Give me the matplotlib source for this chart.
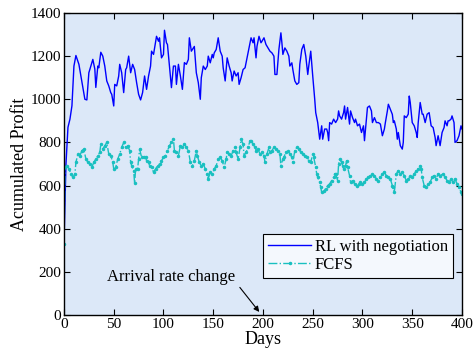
import matplotlib
matplotlib.use('Agg')
import matplotlib.pyplot as plt

# RL with negotiation (day -> profit)
rl_days = [0, 2, 4, 6, 8, 10, 12, 15, 17, 19, 21, 23, 25, 27, 29, 31, 32, 34, 35, 37,
           39, 41, 43, 45, 47, 48, 50, 51, 53, 55, 56, 58, 60, 62, 63, 65, 67, 69, 71, 73,
           75, 77, 79, 81, 83, 85, 87, 88, 90, 93, 95, 96, 98, 100, 101, 103, 104, 106, 108, 110,
           112, 113, 115, 117, 119, 121, 123, 125, 126, 128, 131, 133, 135, 137, 138, 140, 142, 144, 145, 147,
           149, 150, 151, 153, 155, 157, 159, 160, 162, 164, 166, 168, 169, 171, 173, 175, 176, 178, 180, 182,
           184, 186, 188, 190, 191, 193, 194, 196, 198, 199, 201, 203, 205, 207, 209, 211, 212, 214, 216, 218,
           219, 220, 222, 224, 226, 227, 229, 230, 232, 234, 236, 237, 239, 241, 243, 245, 246, 248, 250, 252,
           253, 255, 257, 259, 260, 262, 264, 265, 266, 267, 269, 271, 273, 275, 276, 277, 279, 281, 282, 283,
           285, 287, 288, 290, 292, 293, 295, 297, 299, 301, 302, 304, 305, 307, 309, 310, 312, 314, 316, 318,
           320, 322, 323, 325, 326, 328, 330, 331, 332, 334, 335, 336, 338, 340, 341, 342, 344, 346, 347, 348,
           350, 352, 354, 355, 356, 358, 360, 361, 363, 365, 367, 369, 371, 373, 374, 376, 378, 380, 382, 383,
           385, 386, 387, 389, 390, 392, 393, 395, 397, 399, 400]
rl_profit = [330, 700, 870, 908, 970, 1154, 1203, 1162, 1108, 1054, 1000, 997, 1123, 1154, 1185, 1140, 1055, 1154, 1146, 1218,
             1200, 1154, 1085, 1062, 1031, 1023, 969, 1069, 1062, 1108, 1162, 1123, 1031, 1138, 1146, 1200, 1123, 1162, 1138, 1077,
             1023, 997, 1031, 1108, 1046, 1108, 1154, 1223, 1208, 1292, 1269, 1285, 1192, 1208, 1320, 1262, 1254, 1154, 1054, 1154,
             1154, 1069, 1162, 1108, 1046, 1170, 1162, 1185, 1285, 1223, 1245, 1123, 1077, 1000, 1100, 1154, 1138, 1154, 1200, 1169,
             1208, 1192, 1215, 1231, 1285, 1223, 1200, 1146, 1085, 1192, 1154, 1123, 1085, 1131, 1108, 1123, 1069, 1100, 1138, 1146,
             1192, 1238, 1285, 1262, 1285, 1192, 1246, 1292, 1262, 1269, 1285, 1254, 1238, 1223, 1215, 1200, 1115, 1115, 1231, 1308,
             1262, 1208, 1238, 1223, 1200, 1154, 1169, 1138, 1085, 1069, 1077, 1162, 1231, 1254, 1200, 1115, 1154, 1223, 1108, 1000,
             938, 892, 815, 877, 815, 862, 862, 846, 808, 892, 885, 908, 892, 908, 946, 923, 908, 938, 969, 908,
             962, 885, 946, 915, 892, 908, 877, 885, 846, 877, 808, 908, 962, 969, 946, 892, 915, 892, 892, 885,
             831, 862, 892, 946, 977, 954, 930, 892, 900, 862, 815, 846, 785, 769, 800, 923, 915, 931, 1015, 985,
             892, 877, 846, 823, 892, 985, 931, 931, 892, 931, 938, 877, 869, 823, 785, 831, 785, 846, 869, 900,
             877, 900, 900, 908, 923, 892, 800, 808, 831, 877, 862]

# FCFS
fcfs_days = [0, 1, 3, 5, 7, 9, 11, 12, 14, 16, 18, 20, 22, 24, 26, 28, 30, 32, 34, 36,
             37, 39, 41, 43, 45, 47, 49, 50, 52, 54, 56, 58, 60, 62, 64, 66, 67, 68, 70, 71,
             72, 74, 75, 76, 78, 80, 82, 83, 85, 86, 88, 90, 92, 94, 96, 98, 100, 102, 104, 106,
             108, 110, 111, 113, 115, 117, 119, 121, 123, 125, 127, 129, 131, 133, 134, 136, 138, 140, 142, 144,
             145, 147, 149, 151, 153, 155, 157, 159, 161, 163, 164, 166, 168, 170, 172, 173, 175, 177, 178, 180,
             181, 183, 185, 187, 188, 190, 192, 193, 195, 197, 199, 201, 202, 204, 206, 207, 209, 211, 213, 215,
             217, 218, 220, 221, 223, 225, 227, 229, 230, 232, 234, 236, 238, 240, 242, 244, 246, 248, 250, 251,
             253, 254, 255, 257, 258, 259, 261, 263, 265, 267, 269, 271, 272, 273, 275, 276, 277, 279, 280, 281,
             283, 284, 285, 287, 288, 290, 292, 294, 296, 298, 300, 302, 304, 306, 308, 310, 312, 314, 316, 318,
             320, 322, 324, 326, 328, 330, 331, 332, 334, 336, 338, 340, 342, 344, 346, 348, 350, 352, 354, 356,
             358, 359, 360, 362, 364, 366, 368, 370, 372, 374, 376, 378, 381, 383, 385, 387, 389, 391, 393, 395,
             397, 399, 400]
fcfs_profit = [330, 685, 692, 677, 654, 638, 654, 708, 746, 738, 762, 769, 723, 708, 700, 685, 708, 723, 738, 754,
               792, 769, 785, 800, 746, 738, 708, 677, 685, 723, 746, 777, 800, 777, 785, 762, 708, 692, 669, 610,
               677, 677, 723, 769, 731, 731, 731, 715, 708, 692, 685, 662, 677, 692, 700, 715, 731, 738, 762, 785,
               800, 815, 762, 754, 738, 785, 777, 792, 777, 762, 708, 692, 715, 762, 738, 708, 692, 700, 677, 654,
               631, 662, 654, 677, 692, 723, 731, 715, 685, 723, 754, 746, 738, 762, 777, 754, 723, 777, 815, 792,
               738, 754, 777, 808, 808, 792, 777, 762, 769, 746, 754, 738, 708, 746, 777, 754, 762, 777, 769, 762,
               746, 692, 723, 731, 754, 762, 746, 731, 708, 762, 777, 769, 754, 746, 738, 731, 715, 708, 746, 731,
               685, 654, 638, 615, 592, 569, 577, 585, 600, 608, 623, 638, 654, 654, 623, 700, 723, 708, 692, 677,
               692, 715, 685, 646, 615, 623, 608, 600, 608, 615, 608, 615, 631, 638, 646, 654, 646, 631, 623, 638,
               654, 662, 646, 638, 631, 600, 592, 569, 654, 669, 654, 662, 646, 623, 631, 646, 638, 654, 669, 677,
               692, 677, 638, 600, 592, 608, 615, 638, 646, 631, 654, 646, 654, 638, 623, 615, 631, 615, 631, 608,
               592, 569, 562]

x_ticks = [0, 50, 100, 150, 200, 250, 300, 350, 400]
y_ticks = [0, 200, 400, 600, 800, 1000, 1200, 1400]

plt.rcParams['font.family'] = ['Liberation Serif', 'DejaVu Serif']
plt.rcParams['mathtext.fontset'] = 'stix'

fig = plt.figure(figsize=(4.75, 3.59), dpi=100)
ax = fig.add_axes([0.1347, 0.1226, 0.8379, 0.8412])
ax.set_facecolor('#dce8f8')

ax.plot(rl_days, rl_profit, color='#0000ff', lw=1.0, label='RL with negotiation')
ax.plot(fcfs_days, fcfs_profit, color='#19c0c0', lw=1.0, ls='-.', marker='.',
        markersize=3, label='FCFS')

ax.set_xlim(0, 400)
ax.set_ylim(0, 1400)
ax.set_xticks(x_ticks)
ax.set_yticks(y_ticks)
ax.tick_params(direction='in', top=True, right=True, labelsize=11, length=4, width=0.8, pad=2)
for s in ax.spines.values():
    s.set_linewidth(1.0)

ax.set_xlabel('Days', fontsize=13, labelpad=0)
ax.set_ylabel('Acumulated Profit', fontsize=13, labelpad=2)

# annotation for the change in arrival rate
ax.text(108, 176, 'Arrival rate change', fontsize=12, ha='center', va='center')
ax.annotate('', xy=(198, 4), xytext=(175, 138),
            arrowprops=dict(arrowstyle='-|>', color='black', lw=0.8, mutation_scale=8))

leg = ax.legend(loc='upper left', bbox_to_anchor=(0.5, 0.268), fontsize=12, frameon=True,
                fancybox=False, edgecolor='black', framealpha=1, borderpad=0.3,
                labelspacing=0.1, handlelength=2.6, handletextpad=0.2, borderaxespad=0)
leg.get_frame().set_facecolor('#f4f8fd')
leg.get_frame().set_linewidth(0.8)

fig.savefig('out.png', dpi=100)
